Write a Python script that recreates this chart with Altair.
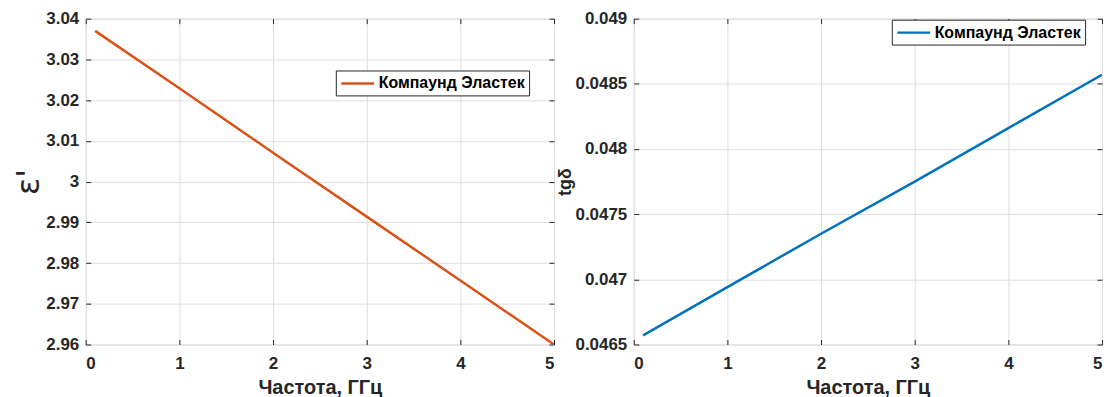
import altair as alt
import pandas as pd

freq = [0.1, 1, 2, 3, 4, 5]
eps = [3.0370, 3.0229, 3.0071, 2.9914, 2.9757, 2.9600]
tand = [0.04657, 0.04694, 0.04735, 0.04775, 0.04816, 0.04857]
series = "Компаунд Эластек"

x_ticks = [0, 1, 2, 3, 4, 5]
eps_ticks = [2.96, 2.97, 2.98, 2.99, 3.00, 3.01, 3.02, 3.03, 3.04]
tan_ticks = [0.0465, 0.047, 0.0475, 0.048, 0.0485, 0.049]

W, H = 470, 327
FONT = "Liberation Sans"
INK = "#262626"
GRID = "#dedede"

df_l = pd.DataFrame({"freq": freq, "val": eps, "series": series})
df_r = pd.DataFrame({"freq": freq, "val": tand, "series": series})


def panel(df, ydom, yticks, ytitle, ytitle_font, ytitle_size, ytitle_weight,
          ytitle_pad, color, lx, ly):
    xs = alt.Scale(domain=[0, 5], nice=False, zero=False)
    ys = alt.Scale(domain=ydom, nice=False, zero=False)
    base = alt.Chart(df)
    main = base.mark_line(strokeWidth=2.5, clip=True).encode(
        x=alt.X("freq:Q", scale=xs, axis=alt.Axis(
            orient="bottom", values=x_ticks, format="~g", ticks=False,
            grid=True, gridColor=GRID, domain=False,
            labelFont=FONT, labelFontSize=17, labelFontWeight="bold",
            labelColor=INK, labelPadding=11,
            title="Частота, ГГц", titleFont=FONT, titleFontSize=20,
            titleFontWeight="bold", titleColor=INK, titlePadding=6)),
        y=alt.Y("val:Q", scale=ys, axis=alt.Axis(
            orient="left", values=yticks, format="~g", ticks=False,
            grid=True, gridColor=GRID, domain=False,
            labelFont=FONT, labelFontSize=17, labelFontWeight="bold",
            labelColor=INK, labelPadding=7,
            title=ytitle, titleFont=ytitle_font, titleFontSize=ytitle_size,
            titleFontWeight=ytitle_weight,
            titleColor=INK, titlePadding=ytitle_pad)),
        color=alt.Color("series:N", scale=alt.Scale(domain=[series], range=[color]),
                        legend=alt.Legend(
                            title=None, orient="none", legendX=lx, legendY=ly,
                            strokeColor=INK, fillColor="white", padding=4,
                            symbolType="M-1,0H3.4", symbolStrokeWidth=2.5,
                            symbolSize=225, labelFont=FONT, labelFontSize=16,
                            labelFontWeight="bold", labelColor="black",
                            labelOffset=21, cornerRadius=0)),
    )
    tick_style = dict(labels=False, domain=False, grid=False, ticks=True,
                      tickSize=5, tickColor=INK, title=None)
    t1 = base.mark_line(opacity=0).encode(
        x=alt.X("freq:Q", scale=xs, axis=alt.Axis(orient="top", offset=-H,
                                                  values=x_ticks, **tick_style)),
        y=alt.Y("val:Q", scale=ys, axis=alt.Axis(orient="right", offset=-W,
                                                 values=yticks, **tick_style)),
    )
    t2 = base.mark_line(opacity=0).encode(
        x=alt.X("freq:Q", scale=xs, axis=alt.Axis(orient="bottom", offset=-H,
                                                  values=x_ticks, **tick_style)),
        y=alt.Y("val:Q", scale=ys, axis=alt.Axis(orient="left", offset=-W,
                                                 values=yticks, **tick_style)),
    )
    return alt.layer(main, t1, t2).resolve_axis(
        x="independent", y="independent").properties(width=W, height=H)


left = panel(df_l, [2.96, 3.04], eps_ticks, "ε'", "DejaVu Sans", 32, "normal",
             0, "#D95319", 251, 52)
right = panel(df_r, [0.0465, 0.049], tan_ticks, "tgδ", FONT, 18, "bold",
              0, "#0072BD", 259, 1)

chart = alt.hconcat(left, right, spacing=80, bounds="flush").resolve_scale(
    color="independent").properties(
    padding={"top": 0, "left": 4, "right": 5, "bottom": 0}
).configure_view(stroke=INK, strokeWidth=1).configure(background="white")

chart.save("out.html", embed_options={"renderer": "svg", "actions": False})
